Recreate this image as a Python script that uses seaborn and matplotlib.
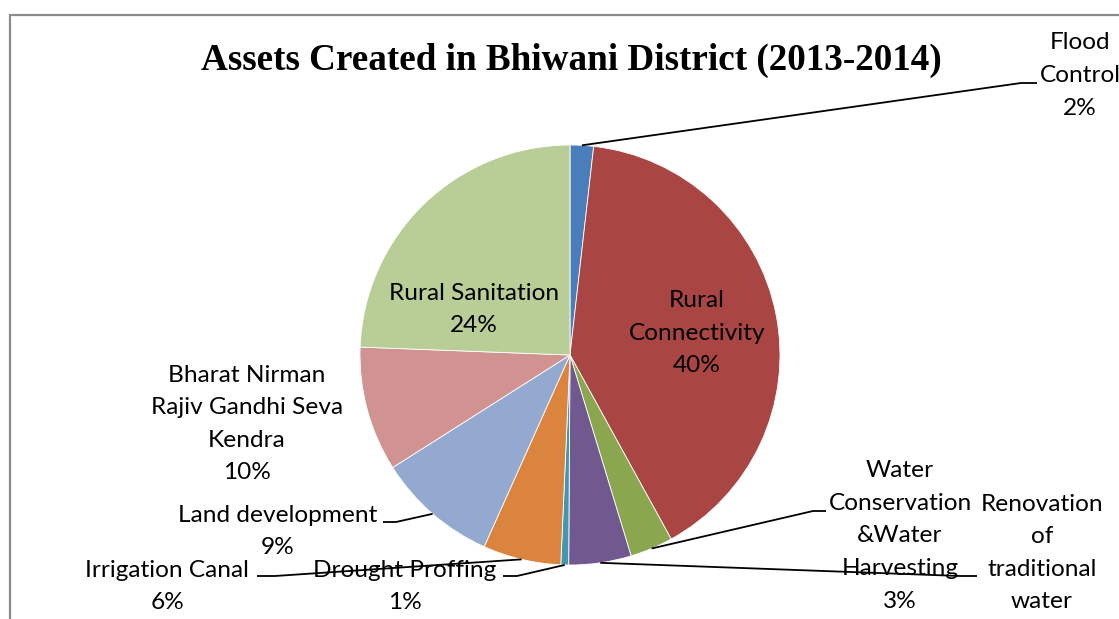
import numpy as np
import matplotlib
matplotlib.use("Agg")
import matplotlib.pyplot as plt
from matplotlib.patches import Rectangle
import seaborn as sns

# Share of assets created under each work category (percent of total)
categories = [
    "Flood\nControl",
    "Rural\nConnectivity",
    "Water\nConservation\n&Water\nHarvesting",
    "Renovation\nof\ntraditional\nwater",
    "Drought Proffing",
    "Irrigation Canal",
    "Land development",
    "Bharat Nirman\nRajiv Gandhi Seva\nKendra",
    "Rural Sanitation",
]
values = [1.8, 40.2, 3.3, 4.8, 0.6, 6.0, 9.3, 9.6, 24.4]
show_pct = [True, True, True, False, True, True, True, True, True]
colors = ["#4A7EBB", "#A94644", "#8AA64F", "#71588F", "#4198AF",
          "#DB843D", "#93A9CF", "#D19392", "#B9CD96"]

sns.set_theme(style="white")
plt.rcParams["font.family"] = ["Lato", "DejaVu Sans"]

W, H = 1119, 619
fig = plt.figure(figsize=(W / 100, H / 100), dpi=100)
ax = fig.add_axes([0, 0, 1, 1])

cx, cy, R = 570, H - 355, 210
wedges, _ = ax.pie(values, colors=colors, startangle=90, counterclock=False,
                   center=(cx, cy), radius=R,
                   wedgeprops=dict(edgecolor="white", linewidth=0.6))
ax.set_xlim(0, W)
ax.set_ylim(0, H)
ax.set_aspect("equal")
ax.axis("off")

# chart frame
ax.add_patch(Rectangle((10, -20), W + 40, H - 15 + 20, fill=False,
                       edgecolor="#8c8c8c", linewidth=1.6, clip_on=False))

ax.text(571, H - 60, "Assets Created in Bhiwani District (2013-2014)",
        ha="center", va="center", fontsize=26.7, fontweight="bold",
        family="Liberation Serif", color="black")

total = sum(values)
pct = [f"{v / total * 100:.0f}%" for v in values]
labels = [c + ("\n" + p if s else "") for c, p, s in zip(categories, pct, show_pct)]

# label centre (px, y from top)
label_pos = [(1080, 75.5), (697, 333), (900, 536), (1042, 553),
             (405, 586.5), (167, 586.5), (278, 531.5), (247, 424), (474, 309.5)]
# leader lines: bend point and end point next to the text (px, y from top)
leaders = {
    0: [(1021, 83), (1037, 83)],
    2: [(813, 511), (826, 511)],
    3: [(960, 576), (977, 576)],
    4: [(517, 576), (503, 576)],
    5: [(275, 576), (257, 576)],
    6: [(396, 522), (383, 522)],
}

for i, (lab, (x, y)) in enumerate(zip(labels, label_pos)):
    ax.text(x, H - y, lab, ha="center", va="center", fontsize=17.6,
            linespacing=1.68, color="black", clip_on=False)
    if i in leaders:
        w = wedges[i]
        mid = np.deg2rad((w.theta1 + w.theta2) / 2)
        pts = [(cx + R * np.cos(mid), cy + R * np.sin(mid))]
        pts += [(px, H - py) for px, py in leaders[i]]
        xs, ys = zip(*pts)
        ax.plot(xs, ys, color="black", linewidth=1.3, solid_capstyle="butt")

fig.savefig("out.png", dpi=100)
